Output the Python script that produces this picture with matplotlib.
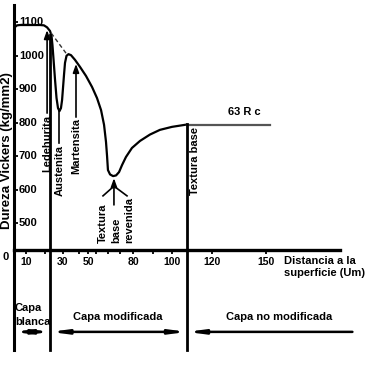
import numpy as np
import matplotlib
matplotlib.use("Agg")
import matplotlib.pyplot as plt

plt.rcParams['font.family'] = ['Liberation Sans', 'DejaVu Sans']
plt.rcParams['font.weight'] = 'bold'

# ---------------- data ----------------
# hardness profile (distance in um, Vickers hardness)
curve_um = [0, 0.8, 2.5, 5, 12, 17.6, 19.7, 21.4, 23.0, 23.8,
            24.3, 24.9, 25.7, 26.5, 27.3, 28.1, 28.9, 29.5, 30, 30.8,
            31.6, 32.8, 34.4, 36.4, 39.6, 43.6, 48.4, 52.7, 56, 58.7,
            60.7, 62, 62.7, 63.3, 64.7, 66.7, 68.7, 70.7, 72.7, 75.3,
            79.3, 83.6, 88.7, 93.8, 100, 107.5]
curve_hv = [1076, 1085, 1090, 1091, 1091, 1091, 1090, 1084, 1073, 1058,
            1031, 987, 927, 873, 843, 834, 843, 867, 903, 942,
            978, 999, 1004, 1001, 987, 966, 939, 906, 873, 837,
            793, 742, 700, 658, 645, 640, 642, 652, 673, 697,
            724, 745, 764, 778, 787, 794]
plateau_um = [107.5, 152]
plateau_hv = [794, 794]
dashed_um = [23.6, 32.4]
dashed_hv = [1067, 1007]

y_ticks = [1100, 1000, 900, 800, 700, 600, 500]
x_ticks = [10, 30, 50, 80, 100, 120, 150]
x_minor = [20, 43, 55, 63, 71, 90]

blanca_end = 23.2      # end of white layer (um)
modif_end = 107.5      # end of modified layer (um)

# ---------------- scale (hand drawn, uneven x axis) ----------------
KU = [-50, 0, 10, 30, 50, 80, 100, 120, 150, 300]
KP = [-46, 14, 26, 63, 88, 133, 172, 212, 266, 536]
fwd = lambda d: np.interp(d, KU, KP)
inv = lambda p: np.interp(p, KP, KU)

fig = plt.figure(figsize=(3.75, 3.86), dpi=100)
ax = fig.add_axes([0, 0, 1, 1])
ax.set_xscale('function', functions=(fwd, inv))
ax.set_xlim(inv(0), inv(375))
ppu = 0.335
ax.set_ylim(1100 - 364 / ppu, 1100 + 22 / ppu)

base_h = 420
# axes spines
for s in ['top', 'right']:
    ax.spines[s].set_visible(False)
ax.spines['left'].set_position(('data', 0))
ax.spines['left'].set_bounds(121, 1151)
ax.spines['bottom'].set_position(('data', base_h))
ax.spines['bottom'].set_bounds(0, 191)
ax.spines['left'].set_linewidth(2.2)
ax.spines['bottom'].set_linewidth(2.4)

ax.set_xticks(x_ticks, [str(v) for v in x_ticks])
ax.set_xticks(x_minor, minor=True)
ax.tick_params(axis='x', which='both', direction='out', length=3, width=1.3,
               labelsize=7.5, pad=2)
for lab in ax.get_xticklabels():
    lab.set_fontweight('bold')
ax.set_yticks(y_ticks, [''] * len(y_ticks))
ax.tick_params(axis='y', direction='in', length=3, width=1.3)
for v in y_ticks:
    ax.annotate(str(v), xy=(0, v), xytext=(3.5, 0), textcoords='offset points',
                ha='left', va='center', fontsize=8, fontweight='bold')
ax.text(-7, 398, '0', ha='center', va='center', fontsize=8, fontweight='bold')

ax.text(-5.8, 715, 'Dureza Vickers (kg/mm2)', rotation=90, ha='center',
        va='center', fontsize=9.5, fontweight='bold')

# curve
ax.plot(curve_um, curve_hv, color='k', lw=1.6, solid_capstyle='round',
        solid_joinstyle='round')
ax.plot(plateau_um, plateau_hv, color='#555555', lw=1.6)
ax.plot(dashed_um, dashed_hv, color='#333333', lw=1.0, ls=(0, (3, 2)))

# vertical boundaries
ax.plot([blanca_end, blanca_end], [121, 1061], color='k', lw=2.0)
ax.plot([modif_end, modif_end], [121, 796], color='k', lw=2.0)

head = dict(color='k', lw=1.2, shrinkA=0, shrinkB=0, mutation_scale=10,
            arrowstyle='-|>,head_length=0.5,head_width=0.18')
# Ledehurita
ax.annotate('', xy=(21.4, 1076), xytext=(21.4, 828), arrowprops=head)
ax.text(21.4, 822, 'Ledehurita', rotation=90, ha='center', va='top', fontsize=8)
# Austenita
ax.plot([28.1, 28.1], [834, 739], color='k', lw=1.2)
ax.text(28.1, 733, 'Austenita', rotation=90, ha='center', va='top', fontsize=8)
# Martensita
ax.annotate('', xy=(40.4, 975), xytext=(40.4, 816), arrowprops=head)
ax.text(40.4, 813, 'Martensita', rotation=90, ha='center', va='top', fontsize=8)
# Textura base revenida
ax.annotate('', xy=(67.3, 634), xytext=(67.3, 554), arrowprops=head)
ax.plot([60, 67.3, 76], [581, 610, 581], color='k', lw=1.2)
ax.text(60, 440, 'Textura', rotation=90, ha='center', va='bottom', fontsize=8)
ax.text(68.7, 440, 'base', rotation=90, ha='center', va='bottom', fontsize=8)
ax.text(77.3, 440, 'revenida', rotation=90, ha='center', va='bottom', fontsize=8)
# Textura base
ax.text(111.5, 787, 'Textura base', rotation=90, ha='center', va='top', fontsize=8)
ax.text(137.8, 831, '63 R c', ha='center', va='center', fontsize=8)

# axis title
ax.text(160, 387, 'Distancia a la', ha='left', va='center', fontsize=8)
ax.text(160, 351, 'superficie (Um)', ha='left', va='center', fontsize=8)

# layers
ax.text(0.8, 246, 'Capa', ha='left', va='center', fontsize=8)
ax.text(0.8, 204.5, 'blanca', ha='left', va='center', fontsize=8)
ax.text(70, 219, 'Capa modificada', ha='center', va='center', fontsize=8)
ax.text(157.2, 219, 'Capa no modificada', ha='center', va='center', fontsize=8)

dbl = dict(color='k', lw=1.8, shrinkA=0, shrinkB=0, mutation_scale=10,
           arrowstyle='<|-|>,head_length=0.9,head_width=0.12')
lay_h = 175
ax.annotate('', xy=(blanca_end, lay_h), xytext=(0, lay_h), arrowprops=dbl)
ax.annotate('', xy=(modif_end, lay_h), xytext=(blanca_end, lay_h), arrowprops=dbl)
one = dict(dbl, arrowstyle='-|>,head_length=0.9,head_width=0.12')
ax.annotate('', xy=(modif_end, lay_h), xytext=(198, lay_h), arrowprops=one)

fig.savefig('out.png', dpi=100)
